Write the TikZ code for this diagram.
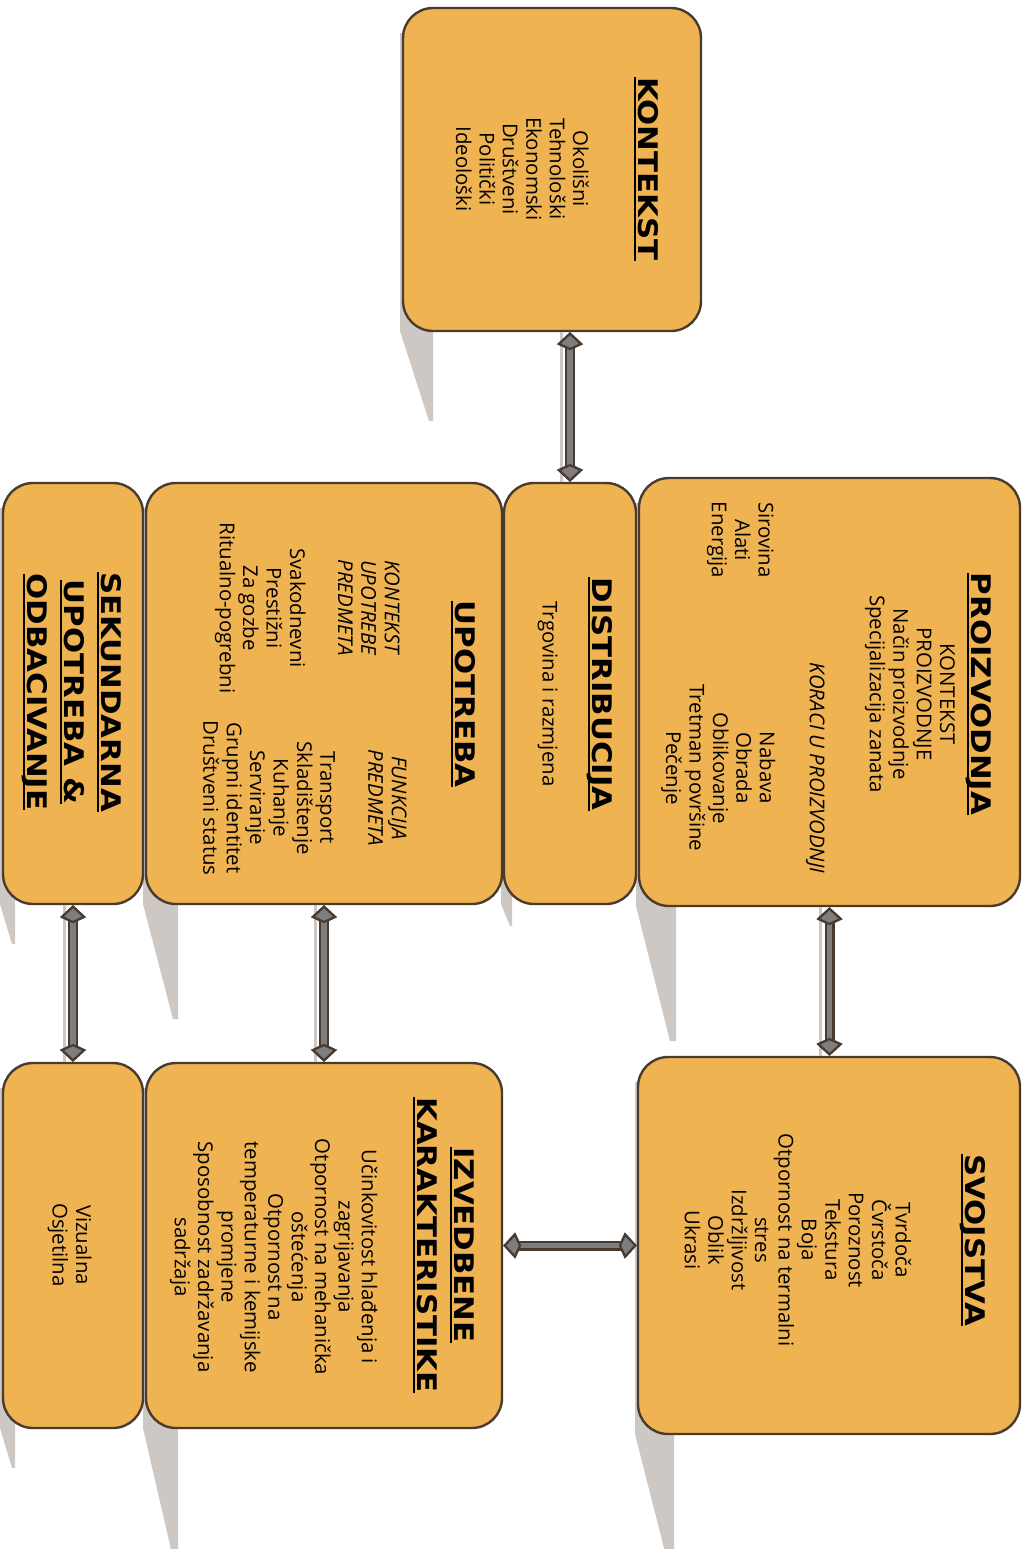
\documentclass[tikz,border=0pt]{standalone}
\usepackage{fontspec}
\setmainfont{Open Sans}
\newfontfamily\hdfamily{DejaVu Sans}[FakeStretch=1.14]
\usetikzlibrary{arrows.meta}

\definecolor{boxfill}{HTML}{EFB352}
\definecolor{boxedge}{HTML}{4A3B30}
\definecolor{linkfill}{HTML}{7E7E80}
\definecolor{shadowgray}{HTML}{CEC8C5}

\newcommand\hd{\hdfamily\bfseries\fontsize{13.5pt}{18.5pt}\selectfont}
\newcommand\bodysize{\fontsize{10.2pt}{11.7pt}\selectfont}
\newcommand\headul[1]{\setbox0\hbox{#1}\rlap{\raisebox{-2.3pt}[0pt][0pt]{\rule{\wd0}{1pt}}}\box0}

\begin{document}
\begin{tikzpicture}[x=0.5pt, y=-0.5pt,
    stagebox/.style={draw=boxedge, fill=boxfill, line width=1.2pt, rounded corners=15pt, inner sep=0pt},
    txt/.style={rotate=-90, anchor=north, inner sep=0pt, align=center, font=\bodysize},
    link/.style={draw=linkfill, line width=2.8pt, preaction={draw=boxedge, line width=5pt},
      >={Kite[length=9pt, width=13pt, inset=3pt, line width=1.1pt, fill=linkfill, color=boxedge]}, <->},
    linkshade/.style={draw=shadowgray, line width=1.5pt},
    boxshadow/.style={fill=shadowgray}]
    \useasboundingbox (0,0) rectangle (1028,1549);
    \clip (0,0) rectangle (1028,1549);

    % Shadows behind the boxes
    \foreach \xa/\ya/\yb/\w/\len/\tx in {403/8/331/30/90/26, 639/478/906/37/135/31, 504/483/904/8/22/6,
        146/483/904/32/115/27, 3/483/904/12/40/9, 638/1057/1434/36/130/30, 146/1063/1428/32/130/27, 3/1063/1428/12/40/9}
      \fill[boxshadow] (\xa-3,\ya+25) -- (\xa-3,\yb) -- (\xa+\tx,\yb+\len) -- (\xa+\w,\yb+\len) -- (\xa+\w,\ya+25) -- cycle;

    % Define boxes
    \node[stagebox, minimum width=149pt, minimum height=161.5pt] (kont) at (552,169.5) {};
    \node[stagebox, minimum width=190.5pt, minimum height=214pt] (prod) at (829.5,692) {};
    \node[stagebox, minimum width=66pt, minimum height=210.5pt] (dist) at (570,693.5) {};
    \node[stagebox, minimum width=178pt, minimum height=210.5pt] (upot) at (324,693.5) {};
    \node[stagebox, minimum width=70pt, minimum height=210.5pt] (sek) at (73,693.5) {};
    \node[stagebox, minimum width=191pt, minimum height=188.5pt] (svoj) at (829,1245.5) {};
    \node[stagebox, minimum width=178pt, minimum height=182.5pt] (izv) at (324,1245.5) {};
    \node[stagebox, minimum width=70pt, minimum height=182.5pt] (viz) at (73,1245.5) {};

    % Texts
    \node[txt] (konttxt) at (659,169) {{\hd\headul{KONTEKST}}\\[21pt]Okolišni\\Tehnološki\\Ekonomski\\Društveni\\Politički\\Ideološki};
    \node[txt] (prodhead) at (992,694) {{\hd\headul{PROIZVODNJA}}\\[4pt]KONTEKST\\PROIZVODNJE\\Način proizvodnje\\Specijalizacija zanata};
    \node[txt] (prodsteps) at (825,768) {\textit{KORACI U PROIZVODNJI}\\[13.3pt]Nabava\\Obrada\\Oblikovanje\\Tretman površine\\Pečenje};
    \node[txt] (prodinputs) at (774,540) {Sirovina\\Alati\\Energija};
    \node[txt] (disttxt) at (613,694) {{\hd\headul{DISTRIBUCIJA}}\\[13.3pt]Trgovina i razmjena};
    \node[txt] (upothead) at (476,694) {{\hd\headul{UPOTREBA}}};
    \node[txt] (upotctx) at (400,608) {\textit{KONTEKST}\\\textit{UPOTREBE}\\\textit{PREDMETA}\\[12.3pt]Svakodnevni\\Prestižni\\Za gozbe\\Ritualno-pogrebni};
    \node[txt] (upotfun) at (407,798) {\textit{FUNKCIJA}\\\textit{PREDMETA}\\[12.3pt]Transport\\Skladištenje\\Kuhanje\\Serviranje\\Grupni identitet\\Društveni status};
    \node[txt] (sektxt) at (122,692) {{\hd\headul{SEKUNDARNA}}\\[6.8pt]{\hd\headul{UPOTREBA \&}}\\[6.8pt]{\hd\headul{ODBACIVANJE}}};
    \node[txt] (svojtxt) at (986,1240) {{\hd\headul{SVOJSTVA}}\\[23.3pt]Tvrdoča\\Čvrstoča\\Poroznost\\Tekstura\\Boja\\Otpornost na termalni\\stres\\Izdržljivost\\Oblik\\Ukrasi};
    \node[txt] (izvhead) at (475,1245) {{\hd\headul{IZVEDBENE}}\\[6.8pt]{\hd\headul{KARAKTERISTIKE}}};
    \node[txt] (izvbody) at (378,1257) {Učinkovitost hlađenja i\\zagrijavanja\\Otpornost na mehanička\\oštećenja\\Otpornost na\\temperaturne i kemijske\\promjene\\Sposobnost zadržavanja\\sadržaja};
    \node[txt] (viztxt) at (92,1245) {Vizualna\\Osjetilna};

    % Draw connectors
    \coordinate (kd) at (dist.north |- kont.south);
    \coordinate (ps) at (prod.south |- svoj.north);
    \draw[linkshade] ([xshift=-4.5pt]kd) -- ([xshift=-4.5pt]dist.north);
    \draw[linkshade] ([xshift=-4.5pt]prod.south) -- ([xshift=-4.5pt]ps);
    \draw[linkshade] ([xshift=-4.5pt]upot.south) -- ([xshift=-4.5pt]izv.north);
    \draw[linkshade] ([xshift=-4.5pt]sek.south) -- ([xshift=-4.5pt]viz.north);
    \draw[link] (kd) -- (dist.north);
    \draw[link] (prod.south) -- (ps);
    \draw[link] (upot.south) -- (izv.north);
    \draw[link] (sek.south) -- (viz.north);
    \draw[link] (izv.east) -- (svoj.west);
\end{tikzpicture}
\end{document}
